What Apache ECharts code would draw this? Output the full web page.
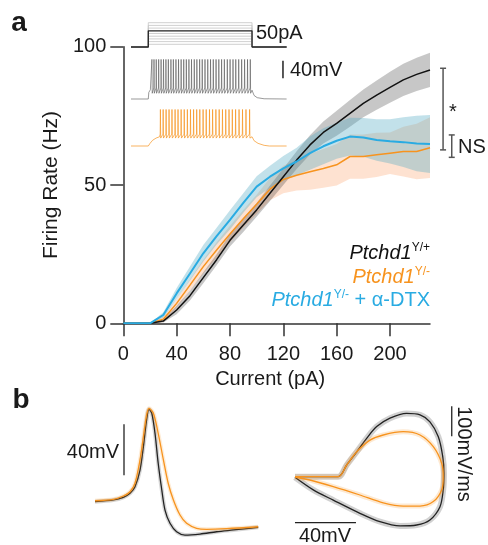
<!DOCTYPE html>
<html>
<head>
<meta charset="utf-8">
<script src="https://cdn.jsdelivr.net/npm/echarts@6/dist/echarts.min.js"></script>
<style>
  html, body { margin: 0; padding: 0; background: #fff; }
  #chart { width: 488px; height: 545px; }
</style>
</head>
<body>
<div id="chart"></div>
<script>
// ---- Panel a: firing rate vs injected current (mean and SEM) ----
const currents = [0, 10, 20, 30, 40, 50, 60, 70, 80, 90, 100, 110, 120, 130, 140, 150, 160, 170, 180, 190, 200, 210, 220, 230];
const rateWT  = [0, 0, 0, 0.8, 4.8, 10, 16.5, 23, 30, 35.5, 41, 47, 53, 59, 64.5, 69, 72.3, 75.9, 79.5, 82.5, 85.3, 88, 90, 91.6];
const semWT   = [0, 0, 0, 0.5, 1.5, 1.8, 2, 2, 2.2, 2.5, 2.5, 2.8, 3, 3.2, 3.5, 4, 4.5, 4.8, 5, 5.3, 5.6, 5.8, 6, 6.2];
const rateKO  = [0, 0, 0, 1.5, 7.2, 13.8, 20.5, 26.5, 32.3, 37.8, 43, 48.5, 52, 53.5, 54.8, 56, 57.3, 60.3, 60.3, 60.9, 61.5, 62.1, 62.1, 63.5];
const semKO   = [0, 0, 0, 1, 1.5, 2, 2.5, 2.8, 3, 3.2, 3.5, 4, 5, 5.5, 6.5, 7, 7.5, 8, 8, 8, 7.5, 9, 10, 11];
const rateDTX = [0, 0, 0, 3, 10.8, 18, 25.3, 31.5, 37.4, 43.5, 49.4, 53, 56, 58.5, 61.5, 64, 66, 67.5, 67.2, 66.3, 65.8, 65.5, 65, 64.8];
const semDTX  = [0, 0, 0, 1, 2, 2.5, 3, 3, 3.5, 3.5, 3.8, 4, 4.5, 5, 6, 6.5, 6.5, 6.8, 7, 7.5, 8, 9, 10, 10.5];

const xTicks = [0, 40, 80, 120, 160, 200];
const yTicks = [0, 50, 100];

// significance brackets at the 230 pA end: [x (pA), y from, y to]
const brackets = [[239.8, 92.2, 62.7], [246.3, 68.1, 60.0]];

// ---- Inset: current-step protocol and example spike trains ----
const stepAmps = [20, 40, 60, 80, 100, 120, 140, 160, 180];   // pA
const shownAmp = 120;                                           // pA
const stepOn = 100, stepOff = 700, sweepEnd = 900;              // ms
const spikesWT = [121, 133, 146, 160, 174, 188, 202, 216, 231, 245, 260, 275, 290, 305, 320, 335, 350, 366, 381, 397,
                  412, 428, 444, 460, 476, 492, 508, 524, 540, 557, 573, 590, 606, 623, 640, 657, 674, 690];
const spikesKO = [170, 186, 203, 220, 237, 255, 272, 290, 308, 326, 344, 362, 380, 398, 417, 435, 454, 472, 491, 510,
                  529, 548, 567, 586, 605, 625, 645, 665, 686];
const levelsWT = { rest: -70, thr: -45, peak: 20, ahp: -57,
  onset: [[103, -55], [112, -49]],
  offset: [[700, -50], [712, -62], [730, -67], [770, -69.5]] };
const levelsKO = { rest: -70, thr: -43, peak: 13, ahp: -52,
  onset: [[110, -64], [125, -57], [145, -52], [165, -49]],
  offset: [[700, -49], [712, -58], [735, -64], [770, -68.5], [800, -70]] };
const insetBar = [[879, -23], [879, 17]];                  // 40 mV

// ---- Panel b: averaged action potential [ms, mV] and phase plot [mV, mV/ms] ----
const apWT = [[0, -60.7], [0.46, -59.4], [0.71, -57.3], [0.875, -54.2], [1.0, -49], [1.125, -35.9], [1.21, -17.6],
              [1.29, 3.3], [1.35, 11.7], [1.42, 8.6], [1.5, -7.1], [1.58, -30.6], [1.67, -51.6], [1.75, -67.3],
              [1.875, -77.7], [2.04, -84.3], [2.25, -86.9], [2.625, -86.1], [3.04, -84.3], [3.46, -82.9], [4.08, -80.8]];
const apKO = [[0, -60], [0.46, -58.9], [0.71, -56.3], [0.875, -52.9], [1.0, -46.3], [1.125, -28], [1.21, -9.8],
              [1.29, 7.3], [1.35, 12.5], [1.46, 8.6], [1.58, -7.1], [1.71, -28], [1.83, -46.3], [1.96, -59.4],
              [2.125, -71.2], [2.29, -77.7], [2.54, -81.6], [2.79, -82.4], [3.29, -81.9], [4.08, -80.4]];
const phaseWT = [[-87, 0], [-58.6, 0], [-53.1, 39], [-46.5, 83], [-40, 128], [-33.4, 167], [-24.7, 195], [-13.8, 211],
                 [-5, 206], [1.5, 183], [7, 133], [9.9, 67], [10.7, 11], [10.2, -44], [8.1, -100], [1.5, -144],
                 [-7.2, -161], [-18.1, -164], [-31.3, -150], [-44.4, -122], [-61.9, -78], [-75, -44], [-87, -2]];
const phaseKO = [[-87, 0], [-58.6, 0], [-53.1, 39], [-46.5, 83], [-37.8, 122], [-29.1, 139], [-16, 150], [-5, 139],
                 [3.7, 100], [9.2, 45], [10.2, 0], [9.2, -44], [3.7, -83], [-5, -98], [-16, -98], [-29.1, -87],
                 [-44.4, -61], [-61.9, -33], [-77.2, -11], [-87, -1]];
const apScaleBar = [[0.725, -40], [0.725, 0]];            // 40 mV
const phaseScaleV = [[-87, -153], [-47, -153]];           // 40 mV
const phaseScaleD = [[15.8, 135], [15.8, 235]];           // 100 mV/ms

// ---------------------------------------------------------------
const FONT = '"Liberation Sans", Arial, Helvetica, sans-serif';
const C_WT = '#111111', C_KO = '#f7931e', C_DTX = '#29abe2';
const INK = '#1a1a1a';

const pairs = (xs, ys) => xs.map((x, i) => [x, ys[i]]);

// shaded mean ± SEM band, drawn as one polygon through the axis scales
function band(mean, sem, color) {
  const rows = currents.map((x, i) => [x, mean[i] - sem[i], mean[i] + sem[i]]);
  return {
    type: 'custom', xAxisIndex: 0, yAxisIndex: 0, data: rows, encode: { x: 0, y: [1, 2] }, silent: true, z: 2,
    renderItem: (params, api) => {
      if (params.dataIndex !== 0) return null;
      const upper = rows.map(r => api.coord([r[0], r[2]]));
      const lower = rows.map(r => api.coord([r[0], r[1]])).reverse();
      return { type: 'polygon', shape: { points: upper.concat(lower) }, style: { fill: color } };
    }
  };
}
function meanLine(mean, color, width) {
  return { type: 'line', data: pairs(currents, mean), symbol: 'none', z: 2,
    lineStyle: { color: color, width: width } };
}
// vertical bracket with short caps (cap half-width in px)
function bracketSeries(rows) {
  return {
    type: 'custom', xAxisIndex: 0, yAxisIndex: 0, data: rows, clip: false, silent: true, z: 2,
    encode: { x: 0, y: [1, 2] },
    renderItem: (params, api) => {
      const x = api.value(0), a = api.coord([x, api.value(1)]), b = api.coord([x, api.value(2)]);
      const st = { stroke: '#555', lineWidth: 1.5 }, c = 3;
      return { type: 'group', children: [
        { type: 'line', shape: { x1: a[0], y1: a[1], x2: b[0], y2: b[1] }, style: st },
        { type: 'line', shape: { x1: a[0] - c, y1: a[1], x2: a[0] + c, y2: a[1] }, style: st },
        { type: 'line', shape: { x1: b[0] - c, y1: b[1], x2: b[0] + c, y2: b[1] }, style: st }
      ] };
    }
  };
}

function spikeTrace(times, lv) {
  const pts = [[0, lv.rest], [stepOn, lv.rest]];
  lv.onset.forEach(p => pts.push(p));
  times.forEach(t => pts.push([t - 1.2, lv.thr], [t, lv.peak], [t + 1.8, lv.ahp]));
  lv.offset.forEach(p => pts.push(p));
  pts.push([sweepEnd, lv.rest]);
  return pts;
}
function stepTrace(a) {
  return [[0, 0], [stepOn, 0], [stepOn, a], [stepOff, a], [stepOff, 0], [sweepEnd, 0]];
}
function seg(gi, data, color, width, extra) {
  return Object.assign({ type: 'line', xAxisIndex: gi, yAxisIndex: gi, data: data, symbol: 'none',
    clip: false, lineStyle: { color: color, width: width } }, extra || {});
}

const hiddenAxis = (gridIndex, min, max) => ({ type: 'value', gridIndex, min, max, show: false });

const series = [];
// panel a, grid 0
series.push(band(rateKO, semKO, 'rgba(250,150,90,0.28)'));
series.push(meanLine(rateKO, C_KO, 1.5));
series.push(band(rateWT, semWT, 'rgba(0,0,0,0.22)'));
series.push(band(rateDTX, semDTX, 'rgba(80,170,195,0.35)'));
series.push(meanLine(rateWT, C_WT, 1.5));
series.push(meanLine(rateDTX, C_DTX, 2));
series.push(bracketSeries(brackets));

// inset current steps, grid 1
stepAmps.filter(a => a !== shownAmp).forEach(a => series.push(seg(1, stepTrace(a), '#c4c4c4', 0.8)));
series.push(seg(1, stepTrace(shownAmp), '#222', 1.3));
// inset voltage traces, grids 2 and 3
series.push(seg(2, spikeTrace(spikesWT, levelsWT), '#555', 0.6));
series.push(seg(2, insetBar, '#222', 1.5));
series.push(seg(3, spikeTrace(spikesKO, levelsKO), C_KO, 0.7));

// panel b: AP waveform, grid 4
[[apWT, 'rgba(0,0,0,0.16)', '#222'], [apKO, 'rgba(247,147,30,0.18)', C_KO]].forEach(([d, halo, col]) => {
  series.push(seg(4, d, halo, 4, { smooth: 0.3 }));
  series.push(seg(4, d, col, 1.3, { smooth: 0.3 }));
});
series.push(seg(4, apScaleBar, '#222', 1.3));
// panel b: phase plot, grid 5
[[phaseWT, 'rgba(0,0,0,0.18)', '#222', 6], [phaseKO, 'rgba(247,147,30,0.2)', C_KO, 5]].forEach(([d, halo, col, hw]) => {
  series.push(seg(5, d, halo, hw, { smooth: 0.3 }));
  series.push(seg(5, d, col, 1.3, { smooth: 0.3 }));
});
series.push(seg(5, phaseScaleV, '#222', 1.3));
series.push(seg(5, phaseScaleD, '#222', 1.3));

function legendText(text, y, color) {
  return { type: 'text', x: 430, y: y, z: 10, style: {
    text: text, fill: color, align: 'right', verticalAlign: 'middle',
    rich: {
      i: { fill: color, fontFamily: FONT, fontSize: 20, fontStyle: 'italic', lineHeight: 22 },
      s: { fill: color, fontFamily: FONT, fontSize: 12, verticalAlign: 'top', lineHeight: 22 },
      n: { fill: color, fontFamily: FONT, fontSize: 20, lineHeight: 22 }
    } } };
}
const txt = (s, x, y, opts) => ({ type: 'text', x, y, z: 10, rotation: (opts && opts.rot) || 0,
  style: Object.assign({ text: s, fill: INK, font: '20px ' + FONT, align: 'left', verticalAlign: 'middle' }, opts && opts.style) });

const option = {
  animation: false,
  backgroundColor: '#fff',
  grid: [
    { left: 123.3, top: 46.7, width: 306.7, height: 276.6 },
    { left: 131, top: 20, width: 155.6, height: 27 },
    { left: 131, top: 55, width: 155.6, height: 48.4 },
    { left: 131, top: 102, width: 155.6, height: 48.4 },
    { left: 95, top: 405.1, width: 164, height: 133.9 },
    { left: 290.4, top: 401.7, width: 167.75, height: 135 }
  ],
  xAxis: [
    { type: 'value', gridIndex: 0, min: 0, max: 230, interval: 40,
      name: 'Current (pA)', nameLocation: 'middle', nameGap: 46,
      nameTextStyle: { fontFamily: FONT, fontSize: 20, color: INK, padding: [0, 13, 0, 0] },
      axisLine: { lineStyle: { color: '#333', width: 1.5 } },
      axisTick: { length: 13, lineStyle: { color: '#333', width: 1.5 }, customValues: xTicks },
      axisLabel: { margin: 21, fontFamily: FONT, fontSize: 20, color: INK, customValues: xTicks },
      splitLine: { show: false } },
    hiddenAxis(1, 0, sweepEnd), hiddenAxis(2, 0, sweepEnd), hiddenAxis(3, 0, sweepEnd),
    hiddenAxis(4, 0, 4.1), hiddenAxis(5, -90, 20)
  ],
  yAxis: [
    { type: 'value', gridIndex: 0, min: 0, max: 100, interval: 50,
      name: 'Firing Rate (Hz)', nameLocation: 'middle', nameGap: 48,
      nameTextStyle: { fontFamily: FONT, fontSize: 21, color: INK },
      axisLine: { show: true, lineStyle: { color: '#333', width: 1.5 } },
      axisTick: { show: true, length: 13, lineStyle: { color: '#333', width: 1.5 }, customValues: yTicks },
      axisLabel: { margin: 17, fontFamily: FONT, fontSize: 20, color: INK, customValues: yTicks },
      splitLine: { show: false } },
    hiddenAxis(1, 0, 200), hiddenAxis(2, -80, 30), hiddenAxis(3, -80, 30),
    hiddenAxis(4, -90, 15), hiddenAxis(5, -200, 250)
  ],
  series: series,
  graphic: [
    txt('a', 19, 23, { style: { font: 'bold 28px ' + FONT, align: 'center' } }),
    txt('b', 21, 400, { style: { font: 'bold 28px ' + FONT, align: 'center' } }),
    txt('50pA', 256, 33),
    txt('40mV', 290, 70),
    txt('*', 453, 112, { style: { align: 'center' } }),
    txt('NS', 458, 147),
    legendText('{i|Ptchd1}{s|Y/+}', 253, C_WT),
    legendText('{i|Ptchd1}{s|Y/-}', 277, C_KO),
    legendText('{i|Ptchd1}{s|Y/-}{n| + α-DTX}', 300, C_DTX),
    txt('40mV', 119, 452, { style: { align: 'right' } }),
    txt('40mV', 325, 536, { style: { align: 'center' } }),
    txt('100mV/ms', 464, 454, { rot: -Math.PI / 2, style: { align: 'center' } })
  ]
};

const chart = echarts.init(document.getElementById('chart'), null, { renderer: 'canvas' });
chart.setOption(option);
</script>
</body>
</html>
